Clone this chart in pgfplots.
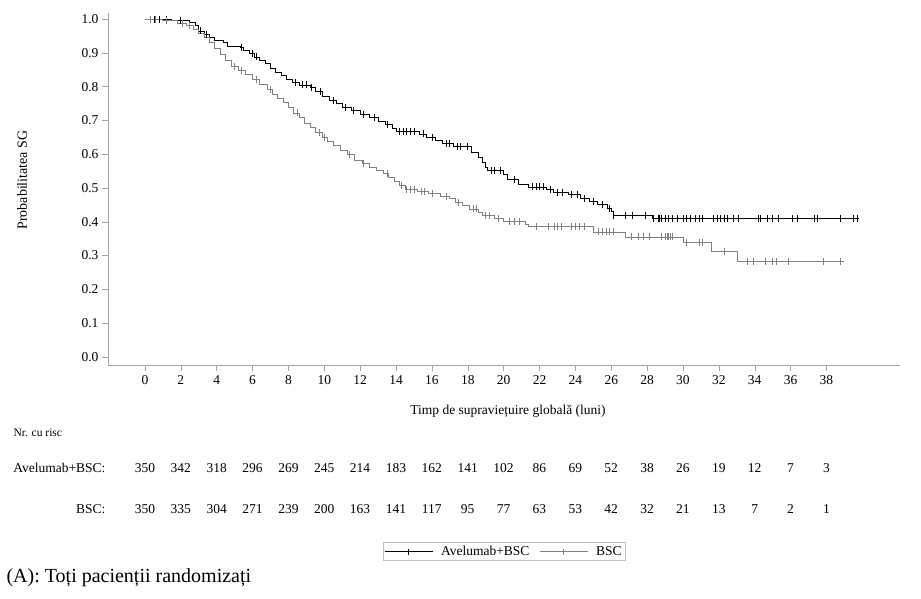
\documentclass[border=0pt]{standalone}
\usepackage{fontspec}
\setmainfont{Liberation Serif}
\usepackage{pgfplots}
\pgfplotsset{compat=1.18}
\usepackage{pgfplotstable}

% Kaplan-Meier estimates: time (months), survival probability
\pgfplotstableread{
t S
0 1.000
1.5 0.997
2.5 0.991
2.8 0.980
3.0 0.965
3.3 0.955
3.6 0.945
3.9 0.938
4.4 0.930
4.6 0.920
5.3 0.915
5.5 0.907
5.8 0.897
6.1 0.888
6.4 0.878
6.7 0.868
7.0 0.855
7.3 0.843
7.6 0.832
7.9 0.822
8.2 0.812
8.6 0.805
9.2 0.797
9.5 0.787
9.9 0.772
10.3 0.760
10.7 0.750
11.0 0.738
11.5 0.730
12.0 0.718
12.5 0.710
13.0 0.698
13.4 0.688
13.8 0.675
14.0 0.668
15.3 0.660
15.7 0.650
16.2 0.642
16.6 0.632
17.2 0.622
18.2 0.605
18.6 0.590
18.8 0.575
19.0 0.562
19.1 0.553
20.0 0.540
20.2 0.525
20.8 0.512
21.4 0.503
22.4 0.495
22.8 0.488
23.6 0.480
24.3 0.470
24.8 0.460
25.2 0.450
25.8 0.440
26.0 0.430
26.1 0.420
28.3 0.410
39.8 0.410
}\avelumab

\pgfplotstableread{
t S
0 1.000
1.0 0.997
1.8 0.988
2.3 0.980
2.7 0.970
3.0 0.958
3.3 0.945
3.6 0.930
3.9 0.912
4.2 0.895
4.5 0.878
4.8 0.860
5.2 0.848
5.6 0.835
6.0 0.822
6.4 0.808
6.8 0.792
7.1 0.778
7.4 0.765
7.7 0.752
8.0 0.738
8.3 0.722
8.6 0.708
8.9 0.692
9.2 0.678
9.5 0.665
9.9 0.650
10.2 0.637
10.5 0.625
10.9 0.610
11.3 0.598
11.7 0.582
12.1 0.572
12.5 0.562
12.9 0.552
13.3 0.543
13.6 0.532
13.9 0.520
14.2 0.508
14.5 0.497
15.2 0.490
15.8 0.483
16.5 0.476
17.0 0.468
17.3 0.458
17.7 0.448
18.1 0.438
18.6 0.428
18.8 0.418
19.5 0.410
20.0 0.400
21.2 0.392
21.4 0.385
25.0 0.370
26.8 0.355
30.0 0.338
31.6 0.311
33.05 0.282
39.0 0.282
}\bsc

% censored observations
\pgfplotstableread{
t S
0.3 1.0
0.5 1.0
0.8 1.0
1.2 1.0
2.0 0.997
3.1 0.965
3.4 0.955
5.4 0.915
6.0 0.897
6.2 0.888
8.4 0.812
8.8 0.805
9.0 0.805
9.3 0.797
9.8 0.787
10.5 0.760
11.2 0.738
11.6 0.730
12.2 0.718
12.8 0.710
13.5 0.688
14.2 0.668
14.4 0.668
14.6 0.668
14.8 0.668
15.0 0.668
15.5 0.660
16.0 0.650
16.8 0.632
17.0 0.632
17.4 0.622
17.6 0.622
18.0 0.622
19.3 0.553
19.5 0.553
19.8 0.553
20.6 0.525
21.6 0.503
21.8 0.503
22.0 0.503
22.2 0.503
22.6 0.495
23.0 0.488
23.3 0.488
23.8 0.480
24.1 0.480
24.5 0.470
25.0 0.460
25.5 0.450
25.9 0.440
26.1 0.420
26.8 0.420
27.2 0.420
27.9 0.420
28.35 0.410
28.6 0.410
28.7 0.410
28.8 0.410
29.0 0.410
29.2 0.410
29.4 0.410
29.7 0.410
30.0 0.410
30.2 0.410
30.4 0.410
30.7 0.410
30.9 0.410
31.1 0.410
31.7 0.410
31.9 0.410
32.1 0.410
32.3 0.410
32.5 0.410
32.8 0.410
33.1 0.410
34.2 0.410
34.3 0.410
34.7 0.410
35.0 0.410
35.3 0.410
36.1 0.410
36.4 0.410
37.3 0.410
37.5 0.410
38.8 0.410
39.5 0.410
39.7 0.410
}\avelumabcens

\pgfplotstableread{
t S
0.3 1.0
0.6 1.0
1.2 0.997
2.1 0.988
2.5 0.980
5.0 0.860
5.4 0.848
6.2 0.822
7.0 0.792
8.5 0.722
9.7 0.665
10.0 0.650
11.4 0.598
12.2 0.572
13.5 0.543
14.3 0.508
14.6 0.497
14.8 0.497
15.0 0.497
15.4 0.490
15.6 0.490
16.0 0.483
16.8 0.476
17.5 0.458
18.3 0.438
18.5 0.438
19.0 0.418
19.2 0.418
19.7 0.410
20.3 0.400
20.6 0.400
20.9 0.400
21.8 0.385
22.5 0.385
22.8 0.385
23.0 0.385
23.2 0.385
23.8 0.385
24.0 0.385
24.2 0.385
24.5 0.385
25.3 0.370
25.5 0.370
25.7 0.370
25.9 0.370
26.1 0.370
27.1 0.355
27.5 0.355
27.8 0.355
28.1 0.355
28.8 0.355
29.0 0.355
29.1 0.355
29.2 0.355
29.3 0.355
29.4 0.355
30.2 0.338
30.9 0.338
31.1 0.338
32.3 0.311
33.6 0.282
33.9 0.282
34.6 0.282
35.0 0.282
35.2 0.282
35.9 0.282
37.8 0.282
38.8 0.282
}\bsccens

\definecolor{bscgray}{RGB}{128,128,128}
\definecolor{axisgray}{RGB}{165,165,165}
\newcommand{\lbl}{\fontsize{13.5}{16}\selectfont}

\begin{document}
\begin{tikzpicture}
\useasboundingbox (0pt,0pt) rectangle (921pt,-599pt);
\begin{axis}[
  at={(108pt,-365pt)}, anchor=south west,
  scale only axis, width=792pt, height=352pt,
  xmin=-2.06, xmax=42.1, ymin=-0.024, ymax=1.018,
  axis lines*=left,
  axis line style={-, draw=axisgray},
  tick align=outside, major tick length=6pt,
  tick style={draw=axisgray, thin},
  xtick={0,2,...,38},
  ytick={0,0.1,0.2,0.3,0.4,0.5,0.6,0.7,0.8,0.9,1.0},
  yticklabel style={/pgf/number format/.cd, fixed, fixed zerofill, precision=1},
  tick label style={font=\lbl, /pgf/number format/assume math mode=true},
  xticklabel style={yshift=-1pt},
  legend style={at={(0.5,-0.53)}, anchor=center, legend columns=2,
    draw=axisgray!70, font=\lbl,
    inner sep=1.5pt,
    /tikz/every odd column/.append style={column sep=6pt},
    /tikz/every even column/.append style={column sep=8pt}},
  legend cell align=left,
]
\addplot[const plot, black, line width=0.8pt, forget plot] table[x=t,y=S] {\avelumab};
\addplot[const plot, bscgray, line width=0.8pt, forget plot] table[x=t,y=S] {\bsc};
\addplot[only marks, mark=|, mark size=3.5pt, black, mark options={line width=0.7pt}, forget plot] table[x=t,y=S] {\avelumabcens};
\addplot[only marks, mark=|, mark size=3.5pt, bscgray, mark options={line width=0.7pt}, forget plot] table[x=t,y=S] {\bsccens};
\addlegendimage{black, line width=0.8pt, legend image code/.code={
  \draw[black, line width=0.8pt] (0pt,0pt) -- (48pt,0pt);
  \draw[black, line width=0.7pt] (24pt,-3pt) -- (24pt,3pt);}}
\addlegendentry{Avelumab+BSC}
\addlegendimage{bscgray, line width=0.8pt, legend image code/.code={
  \draw[bscgray, line width=0.8pt] (0pt,0pt) -- (48pt,0pt);
  \draw[bscgray, line width=0.7pt] (24pt,-3pt) -- (24pt,3pt);}}
\addlegendentry{BSC}
\end{axis}

% axis titles
\node[rotate=90, font=\fontsize{14}{16}\selectfont] at (22pt,-180pt) {Probabilitatea SG};
\node[font=\lbl] at (508pt,-411pt) {Timp de supraviețuire globală (luni)};

% numbers at risk
\node[anchor=west, font=\fontsize{11.5}{13}\selectfont] at (10pt,-433pt) {Nr. cu risc};
\node[anchor=east, font=\lbl] at (109pt,-468pt) {Avelumab+BSC:};
\node[anchor=east, font=\lbl] at (109pt,-509pt) {BSC:};
\foreach \t/\a/\b in {0/350/350, 2/342/335, 4/318/304, 6/296/271, 8/269/239,
  10/245/200, 12/214/163, 14/183/141, 16/162/117, 18/141/95, 20/102/77,
  22/86/63, 24/69/53, 26/52/42, 28/38/32, 30/26/21, 32/19/13, 34/12/7,
  36/7/2, 38/3/1} {
  \node[font=\lbl] at ({144.9pt+17.935pt*\t},-468pt) {\a};
  \node[font=\lbl] at ({144.9pt+17.935pt*\t},-509pt) {\b};
}

\node[anchor=west, font=\fontsize{20}{24}\selectfont] at (3pt,-578pt) {(A): Toți pacienții randomizați};
\end{tikzpicture}
\end{document}
